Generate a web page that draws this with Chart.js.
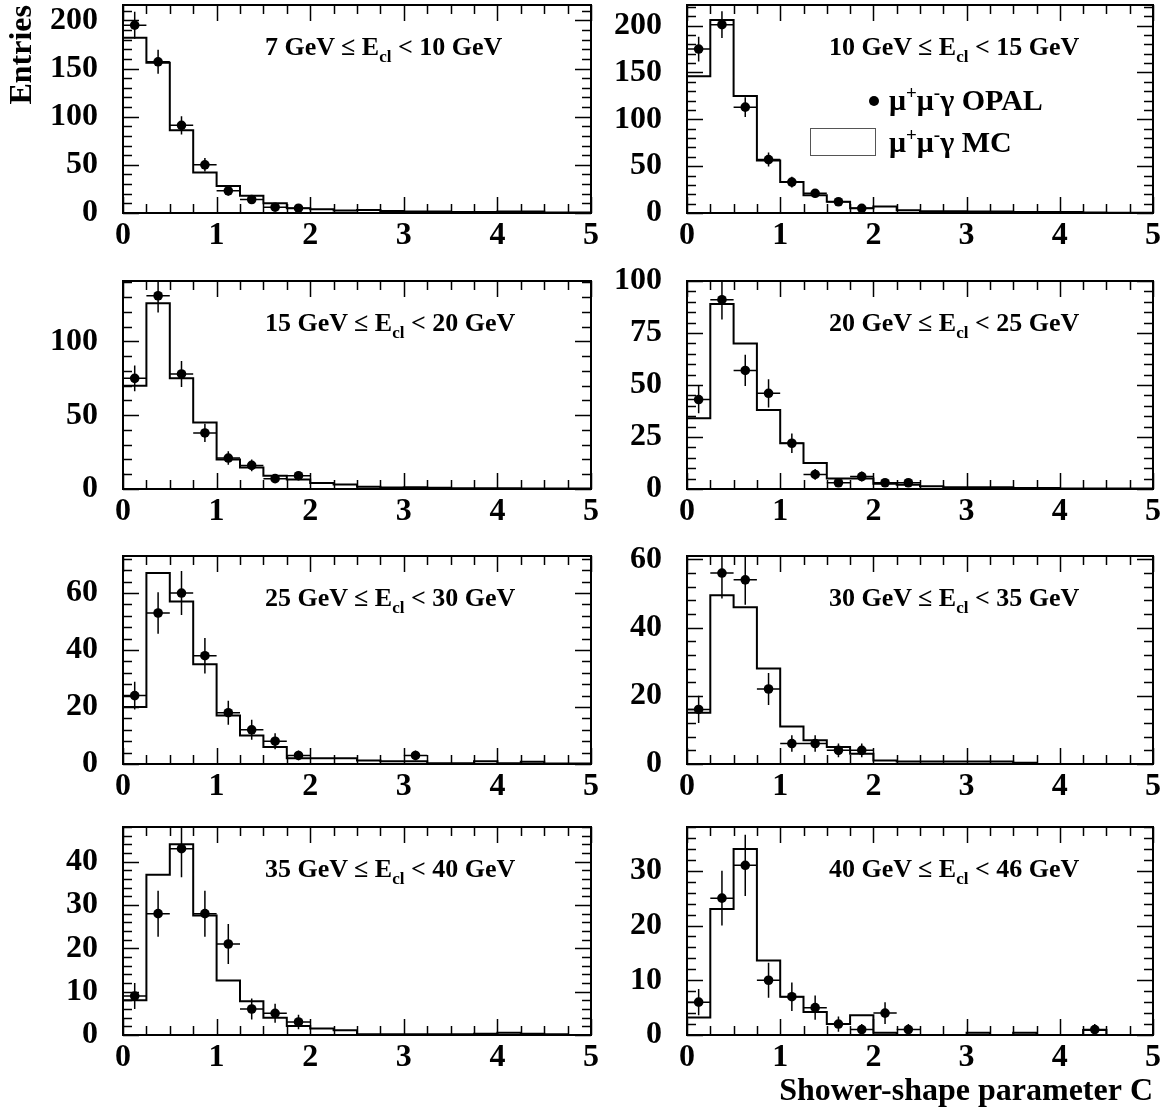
<!DOCTYPE html>
<html>
<head>
<meta charset="utf-8">
<title>Shower-shape parameter C</title>
<script src="https://cdn.jsdelivr.net/npm/chart.js@4.4.1/dist/chart.umd.min.js"></script>
<style>
  html, body { margin:0; padding:0; background:#fff; }
  body { width:1173px; height:1115px; position:relative; overflow:hidden;
         font-family:"Liberation Serif","Times New Roman",serif; font-weight:bold; color:#000; }
  canvas.panel { position:absolute; }
  .elabel { position:absolute; font-size:26px; white-space:nowrap; line-height:26px; }
  .elabel sub { font-size:17px; vertical-align:-7px; line-height:0; }
  .legtext { position:absolute; font-size:30px; white-space:nowrap; line-height:30px; }
  .legtext sup { font-size:19px; vertical-align:11px; line-height:0; }
  .legdot { position:absolute; width:10px; height:10px; border-radius:50%; background:#000; }
  .legbox { position:absolute; border:1px solid #555; background:#fff; }
</style>
</head>
<body>
<script>
// Bin edges of the shower-shape parameter C (20 bins of width 0.25)
const binEdges = [0, 0.25, 0.5, 0.75, 1, 1.25, 1.5, 1.75, 2, 2.25, 2.5,
                  2.75, 3, 3.25, 3.5, 3.75, 4, 4.25, 4.5, 4.75, 5];
const xTickLabels = ['0', '1', '2', '3', '4', '5'];

// Cluster energy ranges in GeV, one per panel
const eLow  = [7, 10, 15, 20, 25, 30, 35, 40];
const eHigh = [10, 15, 20, 25, 30, 35, 40, 46];

// mu+ mu- gamma Monte Carlo expectation, entries per bin
const mc_7_10  = [182, 156, 86, 42, 28, 18, 10, 5, 4, 2.5, 3, 2, 1.5, 1.5, 1, 1, 1.5, 1.5, 0.5, 0.5];
const mc_10_15 = [146, 206, 125, 56, 33, 19, 12, 5, 7, 3, 2, 2, 1.5, 1.5, 1, 1, 1, 0.5, 0.3, 0.3];
const mc_15_20 = [70, 126, 75, 45, 20, 14.5, 9, 6.5, 4, 3, 1.6, 1, 1.2, 0.8, 0.5, 0.5, 0.5, 0.3, 0.3, 0.3];
const mc_20_25 = [34, 89, 70, 38, 22, 12.5, 5, 5, 2.5, 2, 1.3, 0.8, 0.8, 0.8, 0.5, 0.5, 0.2, 0.2, 0.2, 0.2];
const mc_25_30 = [20, 67, 57, 35, 17, 10, 6, 2, 2, 2, 1.2, 1, 1, 0.3, 0.3, 1, 0.3, 0.8, 0.2, 0.2];
const mc_30_35 = [15, 49.5, 46, 28, 11, 7, 5, 3, 1, 0.7, 0.7, 0.7, 0.7, 0.7, 0.4, 0, 0, 0, 0, 0];
const mc_35_40 = [8, 37, 44, 27.6, 12.6, 7.8, 4, 2.1, 1.5, 1.1, 0.2, 0.2, 0.2, 0.2, 0.2, 0.3, 0.5, 0.3, 0.2, 0];
const mc_40_46 = [3.2, 23, 34, 13.6, 7, 4.2, 2, 3.6, 0.4, 0, 0, 0, 0.4, 0, 0.4, 0, 0, 0.9, 0, 0];

// OPAL data, entries per bin (null = bin not shown)
const data_7_10  = [195, 157, 91, 50, 23, 14, 6, 5];
const data_10_15 = [175, 201, 113, 57, 33, 21, 12, 5];
const data_15_20 = [75, 131, 78, 38, 21, 16, 7, 9];
const data_20_25 = [43, 91, 57, 46, 22, 7, 3, 6, 3, 3];
const data_25_30 = [24, 53, 60, 38, 18, 12, 8, 3, null, null, null, null, 3];
const data_30_35 = [16, 56, 54, 22, 6, 6, 4, 4];
const data_35_40 = [9, 28, 43, 28, 21, 6, 5, 3];
const data_40_46 = [6, 25, 31, 10, 7, 5, 2, 1, 4, 1, null, null, null, null, null, null, null, 1];

// Statistical errors on the OPAL data
const err_7_10  = [14, 12.5, 9.5, 7, 4.8, 3.7, 2.4, 2.2];
const err_10_15 = [13.2, 14.2, 10.6, 7.5, 5.7, 4.6, 3.5, 2.2];
const err_15_20 = [8.7, 11.4, 8.8, 6.2, 4.6, 4, 2.6, 3];
const err_20_25 = [6.6, 9.5, 7.5, 6.8, 4.7, 2.6, 1.7, 2.4, 1.7, 1.7];
const err_25_30 = [4.9, 7.3, 7.7, 6.2, 4.2, 3.5, 2.8, 1.7, null, null, null, null, 1.7];
const err_30_35 = [4, 7.5, 7.3, 4.7, 2.4, 2.4, 2, 2];
const err_35_40 = [3, 5.3, 6.6, 5.3, 4.6, 2.4, 2.2, 1.7];
const err_40_46 = [2.4, 5, 5.6, 3.2, 2.6, 2.2, 1.4, 1, 2, 1, null, null, null, null, null, null, null, 1];

const mcSeries   = [mc_7_10, mc_10_15, mc_15_20, mc_20_25, mc_25_30, mc_30_35, mc_35_40, mc_40_46];
const dataSeries = [data_7_10, data_10_15, data_15_20, data_20_25, data_25_30, data_30_35, data_35_40, data_40_46];
const errSeries  = [err_7_10, err_10_15, err_15_20, err_20_25, err_25_30, err_30_35, err_35_40, err_40_46];

// Vertical axis range and tick spacing per panel
const yMax   = [216, 222, 141, 100, 73, 61, 48, 38];
const yMajor = [50, 50, 50, 25, 20, 20, 10, 10];
const yMinor = [10, 10, 10, 5, 4, 4, 2, 2];

// ---- page layout (frame positions in px) ----
const colFrame = [{ left: 123, right: 591, yW: 123 }, { left: 687, right: 1153, yW: 96 }];
const rowTop = [5, 281, 556, 827];
const frameH = 208;
const padRight = 20;
const PAGE_H = 1115;

const FONT = '"Liberation Serif", "Times New Roman", serif';
const tickFont = { family: FONT, size: 32, weight: 'bold' };

// Frame with inward ticks on all four sides
const frameTicks = {
  id: 'frameTicks',
  afterDraw(chart, args, opts) {
    const { ctx, chartArea: a, scales: { x, y } } = chart;
    ctx.save();
    ctx.strokeStyle = '#000';
    ctx.lineWidth = 1.5;
    ctx.beginPath();
    const majL = 16, minL = 9;
    // horizontal axis: major every 1, minor every 0.25
    for (let k = 0; k <= 20; k++) {
      const v = k * 0.25;
      const px = Math.round(x.getPixelForValue(v)) + 0.5;
      const len = (k % 4 === 0) ? majL : minL;
      ctx.moveTo(px, a.bottom); ctx.lineTo(px, a.bottom - len);
      ctx.moveTo(px, a.top);    ctx.lineTo(px, a.top + len);
    }
    // vertical axis
    const ratio = Math.round(opts.major / opts.minor);
    for (let k = 0; k * opts.minor <= opts.max + 1e-9; k++) {
      const v = k * opts.minor;
      const py = Math.round(y.getPixelForValue(v)) + 0.5;
      const len = (k % ratio === 0) ? majL : minL;
      ctx.moveTo(a.left, py);  ctx.lineTo(a.left + len, py);
      ctx.moveTo(a.right, py); ctx.lineTo(a.right - len, py);
    }
    ctx.stroke();
    ctx.lineWidth = 2;
    ctx.strokeRect(a.left, a.top, a.right - a.left, a.bottom - a.top);
    ctx.restore();
  }
};

// Error bars for the data points: vertical +-err, horizontal over the bin width
const errorBars = {
  id: 'errorBars',
  beforeDatasetDraw(chart, args) {
    if (args.index !== 1) return;
    const { ctx, chartArea: a, scales: { x, y } } = chart;
    const pts = chart.data.datasets[1].data;
    ctx.save();
    ctx.beginPath();
    ctx.rect(a.left, a.top, a.right - a.left, a.bottom - a.top);
    ctx.clip();
    ctx.strokeStyle = '#000';
    ctx.lineWidth = 1.5;
    ctx.beginPath();
    for (const p of pts) {
      const cx = x.getPixelForValue(p.x);
      const cy = y.getPixelForValue(p.y);
      ctx.moveTo(x.getPixelForValue(p.xlo), cy);
      ctx.lineTo(x.getPixelForValue(p.xhi), cy);
      if (p.err != null) {
        ctx.moveTo(cx, y.getPixelForValue(p.y - p.err));
        ctx.lineTo(cx, y.getPixelForValue(p.y + p.err));
      }
    }
    ctx.stroke();
    ctx.restore();
  }
};

// keep the plotting frame exactly where the layout wants it
function noScalePadding(s) {
  s.paddingTop = 0; s.paddingBottom = 0; s.paddingLeft = 0; s.paddingRight = 0;
}

function makePanel(i) {
  const col = i % 2, row = Math.floor(i / 2);
  const f = colFrame[col];
  const padTop = Math.min(rowTop[row], 22);
  const canvasLeft = f.left - f.yW;
  const canvasTop = rowTop[row] - padTop;
  const xH = (row === 3) ? PAGE_H - (rowTop[row] + frameH) : 50;
  const W = f.yW + (f.right - f.left) + padRight;
  const H = padTop + frameH + xH;

  const cv = document.createElement('canvas');
  cv.className = 'panel';
  cv.width = W; cv.height = H;
  cv.style.left = canvasLeft + 'px';
  cv.style.top = canvasTop + 'px';
  cv.style.width = W + 'px'; cv.style.height = H + 'px';
  document.body.appendChild(cv);

  const mc = mcSeries[i], dat = dataSeries[i], err = errSeries[i];
  // histogram outline: one point per left bin edge plus the closing right edge
  const stepPts = binEdges.map((e, k) => ({ x: e, y: mc[Math.min(k, mc.length - 1)] }));
  const dataPts = [];
  for (let k = 0; k < binEdges.length - 1; k++) {
    if (dat[k] == null) continue;
    dataPts.push({
      x: (binEdges[k] + binEdges[k + 1]) / 2, y: dat[k],
      xlo: binEdges[k], xhi: binEdges[k + 1], err: err[k]
    });
  }

  new Chart(cv, {
    type: 'scatter',
    data: {
      datasets: [
        { label: 'μ+μ-γ MC', data: stepPts, showLine: true, stepped: 'before',
          borderColor: '#000', borderWidth: 2, pointRadius: 0, fill: false, order: 2 },
        { label: 'μ+μ-γ OPAL', data: dataPts, showLine: false,
          pointRadius: 4.8, pointBackgroundColor: '#000', pointBorderWidth: 0, order: 1 }
      ]
    },
    options: {
      responsive: false, animation: false, devicePixelRatio: 1,
      layout: { padding: { top: padTop, right: padRight, left: 0, bottom: 0 } },
      plugins: {
        legend: { display: false }, tooltip: { enabled: false },
        frameTicks: { max: yMax[i], major: yMajor[i], minor: yMinor[i] }
      },
      scales: {
        x: {
          type: 'linear', min: 0, max: 5,
          afterFit: s => { s.height = xH; noScalePadding(s); },
          grid: { display: false, drawTicks: false }, border: { display: false },
          ticks: { stepSize: 1, includeBounds: false, font: tickFont, color: '#000', padding: 4,
                   maxRotation: 0, autoSkip: false, callback: v => xTickLabels[v] },
          title: { display: i === 7, text: 'Shower-shape parameter C', align: 'end',
                   font: tickFont, color: '#000', padding: { top: 0, bottom: 4 } }
        },
        y: {
          type: 'linear', min: 0, max: yMax[i],
          afterFit: s => { s.width = f.yW; noScalePadding(s); },
          grid: { display: false, drawTicks: false }, border: { display: false },
          ticks: { stepSize: yMajor[i], includeBounds: false, font: tickFont, color: '#000', padding: 25 },
          title: { display: i === 0, text: 'Entries', align: 'end',
                   font: tickFont, color: '#000', padding: { top: 4, bottom: 0 } }
        }
      }
    },
    plugins: [errorBars, frameTicks]
  });

  // energy-range label
  const lab = document.createElement('div');
  lab.className = 'elabel';
  lab.innerHTML = eLow[i] + ' GeV ≤ E<sub>cl</sub> &lt; ' + eHigh[i] + ' GeV';
  lab.style.left = (f.left + 142) + 'px';
  lab.style.top = (rowTop[row] + 29) + 'px';
  document.body.appendChild(lab);
}

for (let i = 0; i < 8; i++) makePanel(i);

// legend in the upper-right panel
function addEl(cls, html, left, top, w, h) {
  const d = document.createElement('div');
  d.className = cls;
  if (html) d.innerHTML = html;
  d.style.left = left + 'px'; d.style.top = top + 'px';
  if (w) d.style.width = w + 'px';
  if (h) d.style.height = h + 'px';
  document.body.appendChild(d);
}
addEl('legdot', '', 869, 96);
addEl('legtext', 'μ<sup>+</sup>μ<sup>-</sup>γ OPAL', 889, 85);
addEl('legbox', '', 810, 128, 64, 26);
addEl('legtext', 'μ<sup>+</sup>μ<sup>-</sup>γ MC', 889, 127);
</script>
</body>
</html>
